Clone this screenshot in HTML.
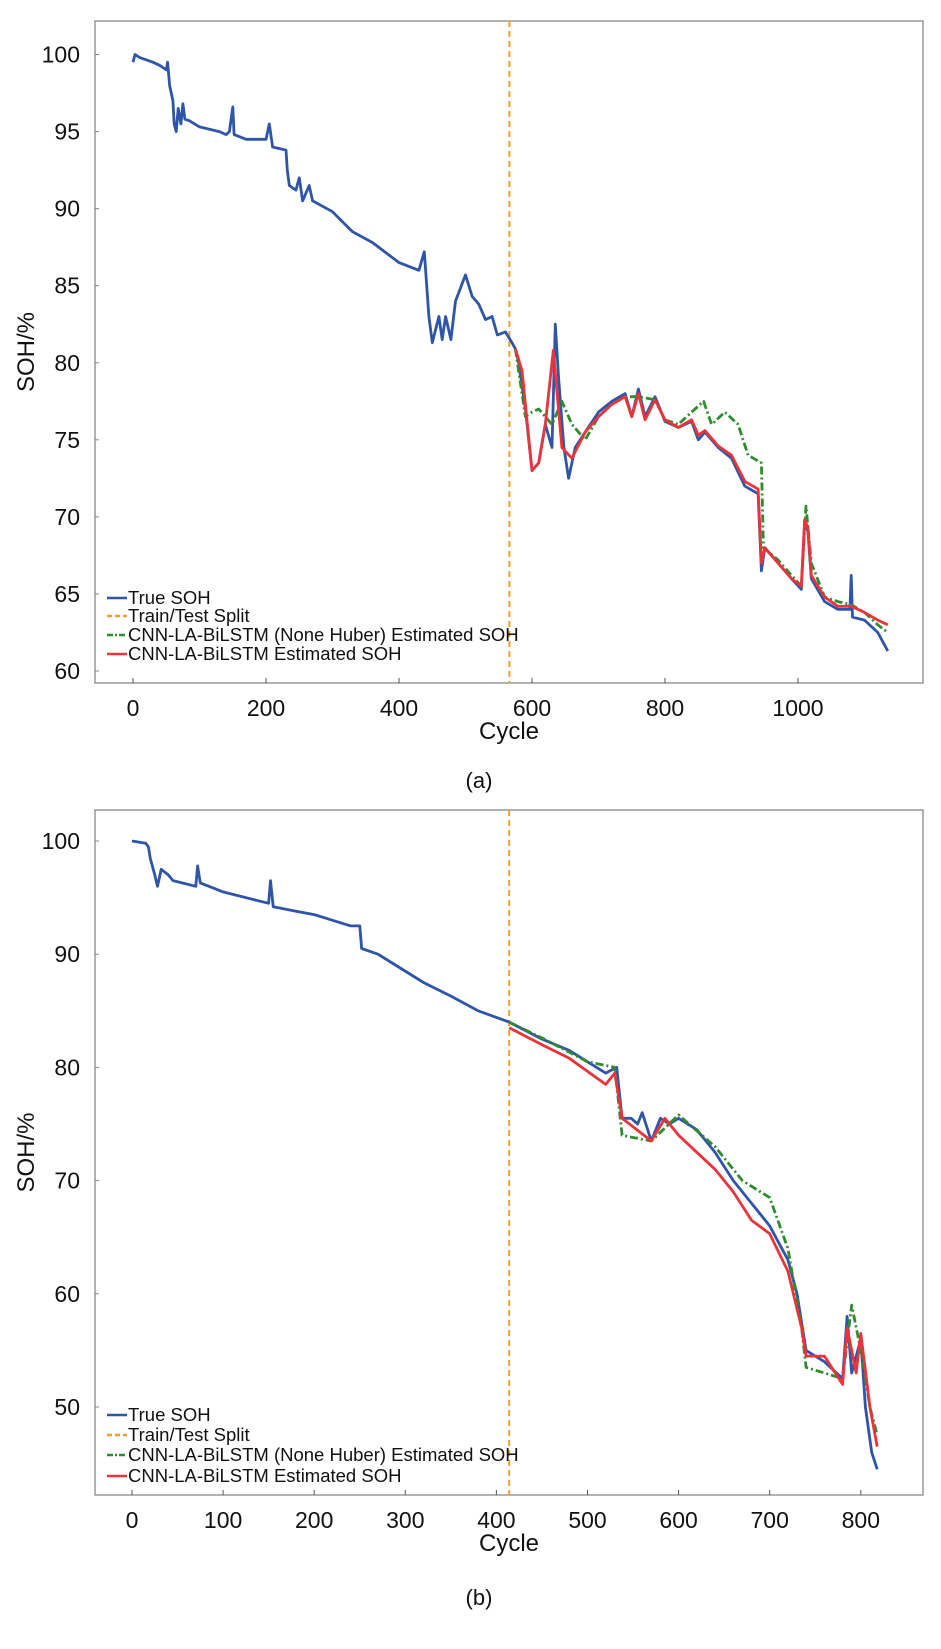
<!DOCTYPE html>
<html><head><meta charset="utf-8"><style>
body{margin:0;background:#fff;}
svg{display:block;font-family:"Liberation Sans",sans-serif;}
</style></head><body>
<svg id="s" width="941" height="1649"></svg>
<script>
// ---- Chart (a) data ----
const aTrueX=[0,3,10,30,40,50,52,55,60,62,65,68,72,75,78,85,100,130,140,145,150,152,170,200,205,210,230,232,235,245,250,255,265,270,300,330,360,400,430,438,445,450,460,465,470,478,485,500,510,520,530,540,548,560,570,575,580,590,600,610,620,630,635,640,648,655,665,680,700,720,740,750,760,770,785,800,820,840,850,860,880,900,920,940,945,950,970,990,1005,1010,1015,1020,1040,1060,1078,1080,1082,1100,1120,1135];
const aTrueY=[99.5,100,99.8,99.5,99.3,99,99.5,98,97,95.5,95,96.5,95.5,96.8,95.8,95.7,95.3,95,94.8,95,96.6,94.8,94.5,94.5,95.5,94,93.8,92.5,91.5,91.2,92,90.5,91.5,90.5,89.8,88.5,87.8,86.5,86,87.2,83,81.3,83,81.5,83,81.5,84,85.7,84.3,83.8,82.8,83,81.8,82,81.3,80.9,80,77,73,73.5,76,74.5,82.5,79,74.5,72.5,74.5,75.5,76.8,77.5,78,76.5,78.3,76.5,77.8,76.2,75.8,76.2,75,75.5,74.5,73.8,72,71.5,66.5,68,67,66,65.3,69.8,69,66,64.5,64,64,66.2,63.5,63.3,62.5,61.3];
const aRedX=[575,585,600,610,620,632,645,660,680,700,720,740,750,760,770,785,800,820,840,850,860,880,900,920,940,945,950,970,990,1005,1010,1015,1020,1040,1060,1080,1100,1120,1135];
const aRedY=[80.9,79.5,73,73.5,76,80.8,74.5,73.8,75.5,76.5,77.3,77.8,76.5,78,76.3,77.6,76.3,75.8,76.3,75.3,75.6,74.6,74,72.3,71.8,67,68,67,66,65.5,69.8,69.3,66.2,64.8,64.2,64.2,63.8,63.3,63];
const aGrnX=[575,590,600,610,630,645,660,680,700,720,740,760,785,800,820,840,858,870,890,910,925,945,948,970,990,1005,1012,1020,1040,1060,1080,1100,1120,1135];
const aGrnY=[80.9,76.5,76.8,77,76,77.5,76,75,76.5,77.3,77.8,77.8,77.6,76.3,76,76.8,77.5,76,76.8,76,74,73.5,68,67.2,66.2,65.5,70.7,67,64.8,64.5,64.3,63.8,63,62.5];
const aYTicks=[60,65,70,75,80,85,90,95,100];
const aXTicks=[0,200,400,600,800,1000];
const aSplit=566;
// ---- Chart (b) data ----
const bTrueX=[0,15,18,20,25,28,32,40,45,70,72,75,100,150,152,155,180,200,240,250,252,270,290,320,350,380,414,450,480,510,520,532,538,548,555,560,570,580,590,600,620,640,660,680,700,720,730,740,760,780,785,790,800,805,812,818];
const bTrueY=[100,99.8,99.5,98.5,97,96,97.5,97,96.5,96,97.8,96.3,95.5,94.5,96.5,94.2,93.8,93.5,92.5,92.5,90.5,90,89,87.5,86.3,85,84,82.5,81.5,80,79.5,80,75.5,75.5,75,76,73.5,75.5,75,75.5,74.5,72.5,70,68,66,63,60,55,54,52.5,58,53,56,50,46,44.5];
const bRedX=[414,450,480,520,530,538,570,585,600,620,640,660,680,700,720,735,740,760,780,785,795,800,810,818];
const bRedY=[83.5,82,80.8,78.5,79.5,75.5,73.5,75.5,74,72.5,71,69,66.5,65.3,62,57,54.5,54.5,52,57,53,56.5,50,46.5];
const bGrnX=[414,450,500,530,538,570,600,640,670,700,720,735,740,760,780,790,800,810,818];
const bGrnY=[84,82.6,80.5,80,74,73.5,75.8,73,70,68.5,64,57,53.5,53,52.5,59,55,50,47.5];
const bYTicks=[50,60,70,80,90,100];
const bXTicks=[0,100,200,300,400,500,600,700,800];
const bSplit=414;

const NS="http://www.w3.org/2000/svg";
const svg=document.getElementById('s');
function mk(tag,attrs,parent){const e=document.createElementNS(NS,tag);for(const k in attrs)e.setAttribute(k,attrs[k]);(parent||svg).appendChild(e);return e;}

function chart(cfg){
  const g=mk('g',{});
  
  
  const xs=v=>cfg.x0+v*cfg.xk, ys=v=>cfg.y0-(v-cfg.yv0)*cfg.yk;
  const box=mk('rect',{x:cfg.L,y:cfg.T,width:cfg.R-cfg.L,height:cfg.B-cfg.T,fill:'none',stroke:'#888','stroke-width':1.3},g);
  
  
  cfg.yt.forEach(v=>{
    mk('line',{x1:cfg.L,x2:cfg.L+4,y1:ys(v),y2:ys(v),stroke:'#888'},g);
    const t=mk('text',{x:cfg.L-15,y:ys(v)+8,'text-anchor':'end','font-size':23,fill:'#111'},g);
    t.textContent=v;
    
    
  });
  cfg.xt.forEach(v=>{
    mk('line',{x1:xs(v),x2:xs(v),y1:cfg.B,y2:cfg.B-5,stroke:'#555'},g);
    const t=mk('text',{x:xs(v),y:cfg.B+33,'text-anchor':'middle','font-size':23,fill:'#111'},g);
    t.textContent=v;
    
    
  });
  const yl=mk('text',{x:0,y:0,transform:`translate(34,${(cfg.T+cfg.B)/2}) rotate(-90)`,'text-anchor':'middle','font-size':24,fill:'#111'},g);
  yl.textContent='SOH/%';
  
  
  const xl=mk('text',{x:(cfg.L+cfg.R)/2,y:cfg.B+56,'text-anchor':'middle','font-size':24,fill:'#111'},g);
  xl.textContent='Cycle';
  
  
  const sp=mk('line',{x1:xs(cfg.split),x2:xs(cfg.split),y1:cfg.T,y2:cfg.B,stroke:'#f0a030','stroke-width':2,'stroke-dasharray':'6,4'},g);
  
  
  function line(X,Y,col,dash,name){
    const d=X.map((x,i)=>(i?'L':'M')+xs(x).toFixed(1)+','+ys(Y[i]).toFixed(1)).join('');
    const p=mk('path',{d:d,fill:'none',stroke:col,'stroke-width':2.8,'stroke-linejoin':'round'},g);
    if(dash)p.setAttribute('stroke-dasharray',dash);
    
    
  }
  line(cfg.tx,cfg.ty,'#2f55a8',null,'true-soh-line');
  line(cfg.gx,cfg.gy,'#2e8b2e','8,3,2,3','none-huber-estimate-line');
  line(cfg.rx,cfg.ry,'#e8343a',null,'cnn-la-bilstm-estimate-line');
  const items=[['True SOH','#2f55a8',null],['Train/Test Split','#f0a030','5,3'],['CNN-LA-BiLSTM (None Huber) Estimated SOH','#2e8b2e','6,2,2,2'],['CNN-LA-BiLSTM Estimated SOH','#e8343a',null]];
  items.forEach((it,i)=>{
    const y=cfg.legY[i];
    const l=mk('line',{x1:cfg.L+12,x2:cfg.L+32,y1:y,y2:y,stroke:it[1],'stroke-width':2.5},g);
    if(it[2])l.setAttribute('stroke-dasharray',it[2]);
    
    
    const t=mk('text',{x:cfg.L+33,y:y+6,'font-size':18.5,fill:'#111'},g);
    t.textContent=it[0];
    
    
  });
  const c=mk('text',{x:(cfg.L+cfg.R)/2-30,y:cfg.capY,'text-anchor':'middle','font-size':22,fill:'#111'},g);
  c.textContent=cfg.cap;
  
  
}
chart({name:'chart-a',L:95,T:21,R:923,B:683,x0:133,xk:0.665,y0:54.5,yv0:100,yk:(671-54.5)/40,
  yt:aYTicks,xt:aXTicks,split:aSplit,tx:aTrueX,ty:aTrueY,rx:aRedX,ry:aRedY,gx:aGrnX,gy:aGrnY,
  legY:[598,616,635,654],cap:'(a)',capY:788});
chart({name:'chart-b',L:95,T:810,R:923,B:1495,x0:132,xk:0.911,y0:841,yv0:100,yk:(1407-841)/50,
  yt:bYTicks,xt:bXTicks,split:bSplit,tx:bTrueX,ty:bTrueY,rx:bRedX,ry:bRedY,gx:bGrnX,gy:bGrnY,
  legY:[1415,1435,1455,1476],cap:'(b)',capY:1605});
</script>
</body></html>
